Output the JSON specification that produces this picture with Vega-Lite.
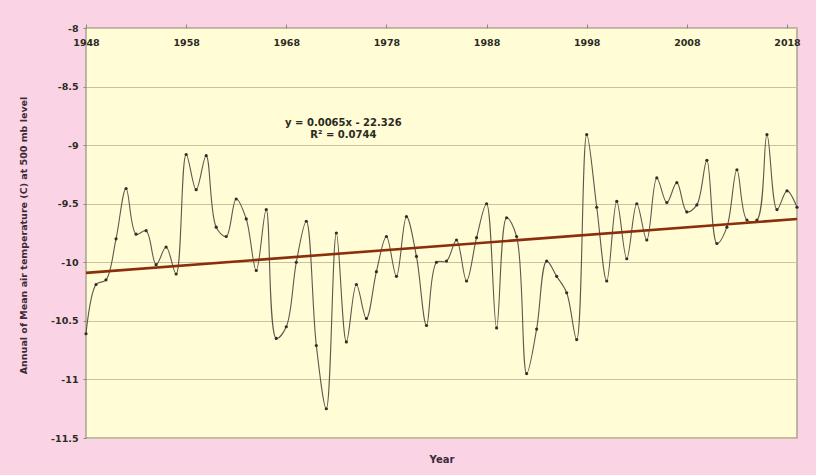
{
  "$schema": "https://vega.github.io/schema/vega-lite/v6.json",
  "width": 711,
  "height": 410,
  "autosize": {"type": "none"},
  "padding": {"left": 86, "top": 28, "right": 19, "bottom": 37},
  "background": "#FAD4E4",
  "config": {
    "view": {"fill": "#FFFCD6", "stroke": "#A8A292", "strokeWidth": 1.5},
    "font": "DejaVu Sans"
  },
  "datasets": {
    "temp": [
      {"year": 1948, "value": -10.61}, {"year": 1949, "value": -10.19}, {"year": 1950, "value": -10.15},
      {"year": 1951, "value": -9.80}, {"year": 1952, "value": -9.37}, {"year": 1953, "value": -9.76},
      {"year": 1954, "value": -9.73}, {"year": 1955, "value": -10.02}, {"year": 1956, "value": -9.87},
      {"year": 1957, "value": -10.10}, {"year": 1958, "value": -9.08}, {"year": 1959, "value": -9.38},
      {"year": 1960, "value": -9.09}, {"year": 1961, "value": -9.70}, {"year": 1962, "value": -9.78},
      {"year": 1963, "value": -9.46}, {"year": 1964, "value": -9.63}, {"year": 1965, "value": -10.07},
      {"year": 1966, "value": -9.55}, {"year": 1967, "value": -10.65}, {"year": 1968, "value": -10.55},
      {"year": 1969, "value": -10.00}, {"year": 1970, "value": -9.65}, {"year": 1971, "value": -10.71},
      {"year": 1972, "value": -11.25}, {"year": 1973, "value": -9.75}, {"year": 1974, "value": -10.68},
      {"year": 1975, "value": -10.19}, {"year": 1976, "value": -10.48}, {"year": 1977, "value": -10.08},
      {"year": 1978, "value": -9.78}, {"year": 1979, "value": -10.12}, {"year": 1980, "value": -9.61},
      {"year": 1981, "value": -9.95}, {"year": 1982, "value": -10.54}, {"year": 1983, "value": -10.00},
      {"year": 1984, "value": -9.99}, {"year": 1985, "value": -9.81}, {"year": 1986, "value": -10.16},
      {"year": 1987, "value": -9.79}, {"year": 1988, "value": -9.50}, {"year": 1989, "value": -10.56},
      {"year": 1990, "value": -9.62}, {"year": 1991, "value": -9.78}, {"year": 1992, "value": -10.95},
      {"year": 1993, "value": -10.57}, {"year": 1994, "value": -9.99}, {"year": 1995, "value": -10.12},
      {"year": 1996, "value": -10.26}, {"year": 1997, "value": -10.66}, {"year": 1998, "value": -8.91},
      {"year": 1999, "value": -9.53}, {"year": 2000, "value": -10.16}, {"year": 2001, "value": -9.48},
      {"year": 2002, "value": -9.97}, {"year": 2003, "value": -9.50}, {"year": 2004, "value": -9.81},
      {"year": 2005, "value": -9.28}, {"year": 2006, "value": -9.49}, {"year": 2007, "value": -9.32},
      {"year": 2008, "value": -9.57}, {"year": 2009, "value": -9.51}, {"year": 2010, "value": -9.13},
      {"year": 2011, "value": -9.84}, {"year": 2012, "value": -9.70}, {"year": 2013, "value": -9.21},
      {"year": 2014, "value": -9.64}, {"year": 2015, "value": -9.64}, {"year": 2016, "value": -8.91},
      {"year": 2017, "value": -9.55}, {"year": 2018, "value": -9.39}, {"year": 2019, "value": -9.53}
    ],
    "trend": [
      {"year": 1948, "value": -10.09},
      {"year": 2019, "value": -9.63}
    ],
    "eq": [
      {"year": 1973.7, "value": -8.81, "label": "y = 0.0065x - 22.326\nR² = 0.0744"}
    ]
  },
  "layer": [
    {
      "data": {"name": "temp"},
      "mark": {"type": "line", "interpolate": "catmull-rom", "color": "#5A5A4C", "strokeWidth": 1.1},
      "encoding": {
        "x": {
          "field": "year", "type": "quantitative",
          "scale": {"domain": [1948, 2019], "nice": false, "zero": false},
          "axis": {
            "orient": "top", "title": null, "values": [1948, 1958, 1968, 1978, 1988, 1998, 2008, 2018],
            "format": "d", "grid": false, "domain": false, "tickSize": 4, "tickColor": "#8E8878",
            "labelFlush": false, "labelOverlap": false, "labelBaseline": "middle", "labelPadding": -18,
            "labelFontSize": 9.5, "labelFontWeight": "bold", "labelColor": "#2A2A22"
          }
        },
        "y": {
          "field": "value", "type": "quantitative",
          "scale": {"domain": [-11.5, -8], "nice": false, "zero": false},
          "axis": {
            "values": [-11.5, -11, -10.5, -10, -9.5, -9, -8.5, -8],
            "labelExpr": "replace(format(datum.value, '~g'), '−', '-')",
            "grid": true, "gridColor": "#C9C2A0", "gridWidth": 1.2,
            "domain": false, "tickSize": 3, "tickColor": "#8E8878", "labelPadding": 5,
            "labelFontSize": 9.5, "labelFontWeight": "bold", "labelColor": "#2A2A22",
            "title": "Annual of Mean air temperature (C) at 500 mb level",
            "titleFontSize": 9.5, "titleFontWeight": "bold", "titleColor": "#3A2A3A",
            "titleX": -63, "titleY": 207, "titleAngle": -90, "titleAlign": "center", "titleBaseline": "middle"
          }
        }
      }
    },
    {
      "data": {"name": "temp"},
      "mark": {"type": "point", "filled": true, "size": 10, "color": "#2E2E26", "opacity": 1},
      "encoding": {
        "x": {"field": "year", "type": "quantitative", "axis": null},
        "y": {"field": "value", "type": "quantitative"}
      }
    },
    {
      "data": {"name": "trend"},
      "mark": {"type": "line", "color": "#8A2E0C", "strokeWidth": 2.6},
      "encoding": {
        "x": {
          "field": "year", "type": "quantitative",
          "axis": {
            "orient": "bottom", "labels": false, "ticks": false, "domain": false, "grid": false,
            "title": "Year", "titleFontSize": 10, "titleFontWeight": "bold", "titleColor": "#3A2A3A", "titlePadding": 16
          }
        },
        "y": {"field": "value", "type": "quantitative"}
      }
    },
    {
      "data": {"name": "eq"},
      "mark": {"type": "text", "lineBreak": "\n", "fontWeight": "bold", "fontSize": 10, "align": "center", "baseline": "middle", "color": "#2A2A22", "lineHeight": 12},
      "encoding": {
        "x": {"field": "year", "type": "quantitative", "axis": null},
        "y": {"field": "value", "type": "quantitative"},
        "text": {"field": "label"}
      }
    }
  ],
  "resolve": {"axis": {"x": "independent"}}
}
